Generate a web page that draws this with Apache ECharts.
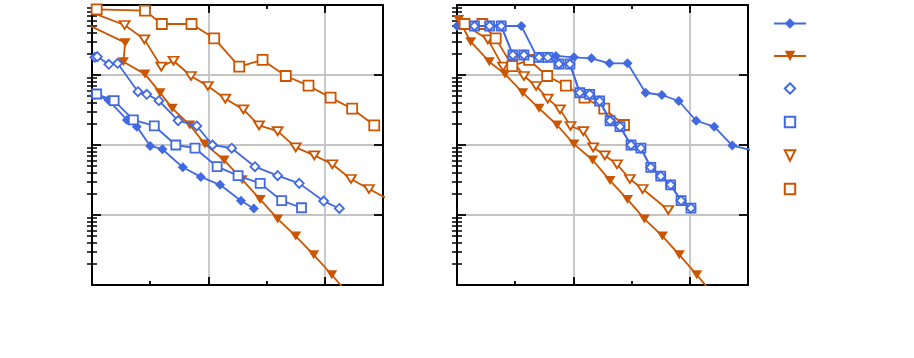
<!DOCTYPE html>
<html>
<head>
<meta charset="utf-8">
<script src="https://cdn.jsdelivr.net/npm/echarts@6/dist/echarts.min.js"></script>
<style>
  html, body { margin: 0; padding: 0; background: #fff; }
  #chart { width: 914px; height: 358px; }
</style>
</head>
<body>
<div id="chart"></div>
<script>
var BLUE = '#4169e1';
var ORANGE = '#cc5500';

// x ticks (gridlines only at 2 and 4)
var xGridTicks = [2, 4];
// log minor ticks 2..9 per decade
var yMinorTicks = [];
[0.0001, 0.001, 0.01, 0.1].forEach(function (d) {
    for (var k = 2; k <= 9; k++) yMinorTicks.push(+(d * k).toPrecision(3));
});

// left panel
var leftFilledDiamond = [[0.05,0.052],[0.28,0.044],[0.60,0.0228],[0.77,0.0183],[1.00,0.0097],[1.21,0.0087],[1.56,0.0048],[1.87,0.0035],[2.20,0.0027],[2.56,0.0016],[2.78,0.00124]];
var leftFilledTri = [[-0.1,0.535],[0.57,0.29],[0.54,0.155],[0.91,0.103],[1.17,0.056],[1.38,0.0334],[1.68,0.0193],[1.94,0.0103],[2.27,0.0061],[2.58,0.0032],[2.89,0.00167],[3.19,0.00088],[3.50,0.0005],[3.81,0.00027],[4.12,0.00014],[4.43,0.00007]];
var leftOpenDiamond = [[0.05,0.179],[0.09,0.183],[0.29,0.142],[0.44,0.147],[0.79,0.0578],[0.94,0.053],[1.15,0.043],[1.48,0.0223],[1.80,0.0187],[2.07,0.0100],[2.40,0.009],[2.80,0.0049],[3.19,0.00365],[3.56,0.00283],[3.98,0.00158],[4.25,0.00124]];
var leftOpenSquare = [[0.08,0.0535],[0.38,0.043],[0.71,0.0228],[1.07,0.0187],[1.44,0.0100],[1.77,0.009],[2.15,0.0049],[2.51,0.00365],[2.89,0.00283],[3.26,0.0016],[3.60,0.00127]];
var leftOpenTri = [[-0.1,0.834],[0.56,0.518],[0.90,0.323],[1.19,0.1315],[1.40,0.160],[1.70,0.0968],[1.99,0.0697],[2.29,0.0459],[2.60,0.0323],[2.87,0.0191],[3.19,0.0158],[3.50,0.00926],[3.82,0.00712],[4.13,0.0053],[4.45,0.00327],[4.76,0.00235],[5.08,0.0017]];
var leftOrangeSquare = [[0.08,0.867],[0.91,0.83],[1.20,0.535],[1.71,0.535],[2.10,0.334],[2.53,0.1315],[2.93,0.164],[3.33,0.0968],[3.72,0.0704],[4.10,0.0475],[4.47,0.033],[4.85,0.0191]];

// right panel
var rightFilledDiamond = [[0,0.501],[0.72,0.501],[1.105,0.501],[1.375,0.181],[1.70,0.187],[2.01,0.179],[2.31,0.173],[2.62,0.147],[2.93,0.147],[3.24,0.0558],[3.52,0.0518],[3.81,0.0425],[4.11,0.0222],[4.42,0.0183],[4.73,0.0098],[5.05,0.0085]];
var rightFilledTri = [[0.03,0.62],[0.235,0.299],[0.555,0.155],[0.825,0.103],[1.13,0.056],[1.41,0.0334],[1.72,0.0193],[2.01,0.0103],[2.33,0.0061],[2.63,0.0031],[2.93,0.00167],[3.22,0.00088],[3.53,0.0005],[3.82,0.00027],[4.12,0.00014],[4.42,0.00007]];
var rightOpenDiamond = [[0.30,0.501],[0.56,0.501],[0.76,0.501],[0.96,0.193],[1.15,0.193],[1.41,0.179],[1.56,0.179],[1.75,0.1436],[1.94,0.1436],[2.11,0.0558],[2.28,0.053],[2.45,0.0425],[2.63,0.0222],[2.80,0.0183],[2.99,0.0100],[3.16,0.009],[3.33,0.0048],[3.50,0.0036],[3.67,0.0027],[3.85,0.0016],[4.02,0.00125]];
var rightOpenSquare = rightOpenDiamond;
var rightOpenTri = [[0.08,0.55],[0.53,0.323],[0.79,0.1315],[0.96,0.160],[1.15,0.0968],[1.36,0.0697],[1.56,0.0459],[1.77,0.0323],[1.95,0.0187],[2.17,0.0158],[2.34,0.00926],[2.54,0.0071],[2.75,0.0053],[2.97,0.00327],[3.19,0.00235],[3.63,0.00118]];
var rightOrangeSquare = [[0.13,0.535],[0.435,0.535],[0.665,0.334],[0.95,0.134],[1.24,0.164],[1.55,0.0968],[1.87,0.0704],[2.19,0.0475],[2.53,0.033],[2.87,0.0193]];

var names = ['a', 'b', 'c', 'd', 'e', 'f'];

var chart = echarts.init(document.getElementById('chart'));

var grids = [
    {left: 92, top: 5, width: 291, height: 280},
    {left: 457, top: 5, width: 291, height: 280}
];

var xAxes = [];
var yAxes = [];

function addAxes(gi) {
    ['bottom', 'top'].forEach(function (pos) {
        xAxes.push({
            gridIndex: gi, type: 'value', min: 0, max: 5, interval: 1, position: pos,
            axisLine: {show: true, onZero: false, lineStyle: {color: '#000', width: 2}},
            axisTick: {show: true, inside: true, length: 4, lineStyle: {color: '#000', width: 1.8}},
            axisLabel: {show: false},
            splitLine: {show: false}
        });
        xAxes.push({
            gridIndex: gi, type: 'value', min: 0, max: 5, position: pos,
            axisLine: {show: false},
            axisTick: {show: true, inside: true, length: 8, customValues: xGridTicks, lineStyle: {color: '#000', width: 1.8}},
            axisLabel: {show: false, customValues: xGridTicks},
            splitLine: {show: pos === 'bottom', lineStyle: {color: '#c4c4c4', width: 1.8}}
        });
    });
    ['left', 'right'].forEach(function (pos) {
        yAxes.push({
            gridIndex: gi, type: 'log', logBase: 10, min: 0.0001, max: 1, interval: 1, position: pos,
            axisLine: {show: true, onZero: false, lineStyle: {color: '#000', width: 2}},
            axisTick: {show: true, inside: true, length: 9, lineStyle: {color: '#000', width: 1.8}},
            axisLabel: {show: false},
            splitLine: {show: pos === 'left', lineStyle: {color: '#c4c4c4', width: 1.8}}
        });
        // minor log ticks
        yAxes.push({
            gridIndex: gi, type: 'log', logBase: 10, min: 0.0001, max: 1, position: pos,
            axisLine: {show: false},
            axisTick: {show: true, inside: true, length: 5, customValues: yMinorTicks, lineStyle: {color: '#000', width: 1.5}},
            axisLabel: {show: false, customValues: yMinorTicks},
            splitLine: {show: false}
        });
    });
}
addAxes(0);
addAxes(1);

function mk(name, data, gi, opt) {
    return {
        name: name, type: 'line', data: data,
        xAxisIndex: gi * 4, yAxisIndex: gi * 4,
        clip: true,
        lineStyle: {color: opt.color, width: 1.8},
        symbol: opt.symbol, symbolSize: opt.size, symbolRotate: opt.rotate || 0,
        itemStyle: opt.open
            ? {color: '#fff', borderColor: opt.color, borderWidth: 1.8}
            : {color: opt.color, borderColor: opt.color, borderWidth: 0},
        z: opt.z || 2
    };
}

var styles = [
    {color: BLUE, symbol: 'diamond', size: 10},
    {color: ORANGE, symbol: 'triangle', size: [11, 9], rotate: 180},
    {color: BLUE, symbol: 'diamond', size: 9, open: true, z: 4},
    {color: BLUE, symbol: 'rect', size: 9, open: true, z: 3},
    {color: ORANGE, symbol: 'triangle', size: [10, 8], rotate: 180, open: true},
    {color: ORANGE, symbol: 'rect', size: 10, open: true}
];

var leftData = [leftFilledDiamond, leftFilledTri, leftOpenDiamond, leftOpenSquare, leftOpenTri, leftOrangeSquare];
var rightData = [rightFilledDiamond, rightFilledTri, rightOpenDiamond, rightOpenSquare, rightOpenTri, rightOrangeSquare];

var series = [];
leftData.forEach(function (d, i) { series.push(mk(names[i], d, 0, styles[i])); });
rightData.forEach(function (d, i) { series.push(mk(names[i], d, 1, styles[i])); });

var option = {
    animation: false,
    backgroundColor: '#fff',
    grid: grids,
    xAxis: xAxes,
    yAxis: yAxes,
    legend: {
        orient: 'vertical', left: 768, top: 12,
        itemWidth: 32, itemHeight: 13, itemGap: 20.8,
        formatter: function () { return ''; },
        textStyle: {fontSize: 10},
        selectedMode: false,
        data: names.map(function (n, i) {
            return i < 2 ? {name: n} : {name: n, lineStyle: {opacity: 0}};
        })
    },
    series: series
};

chart.setOption(option);
</script>
</body>
</html>
